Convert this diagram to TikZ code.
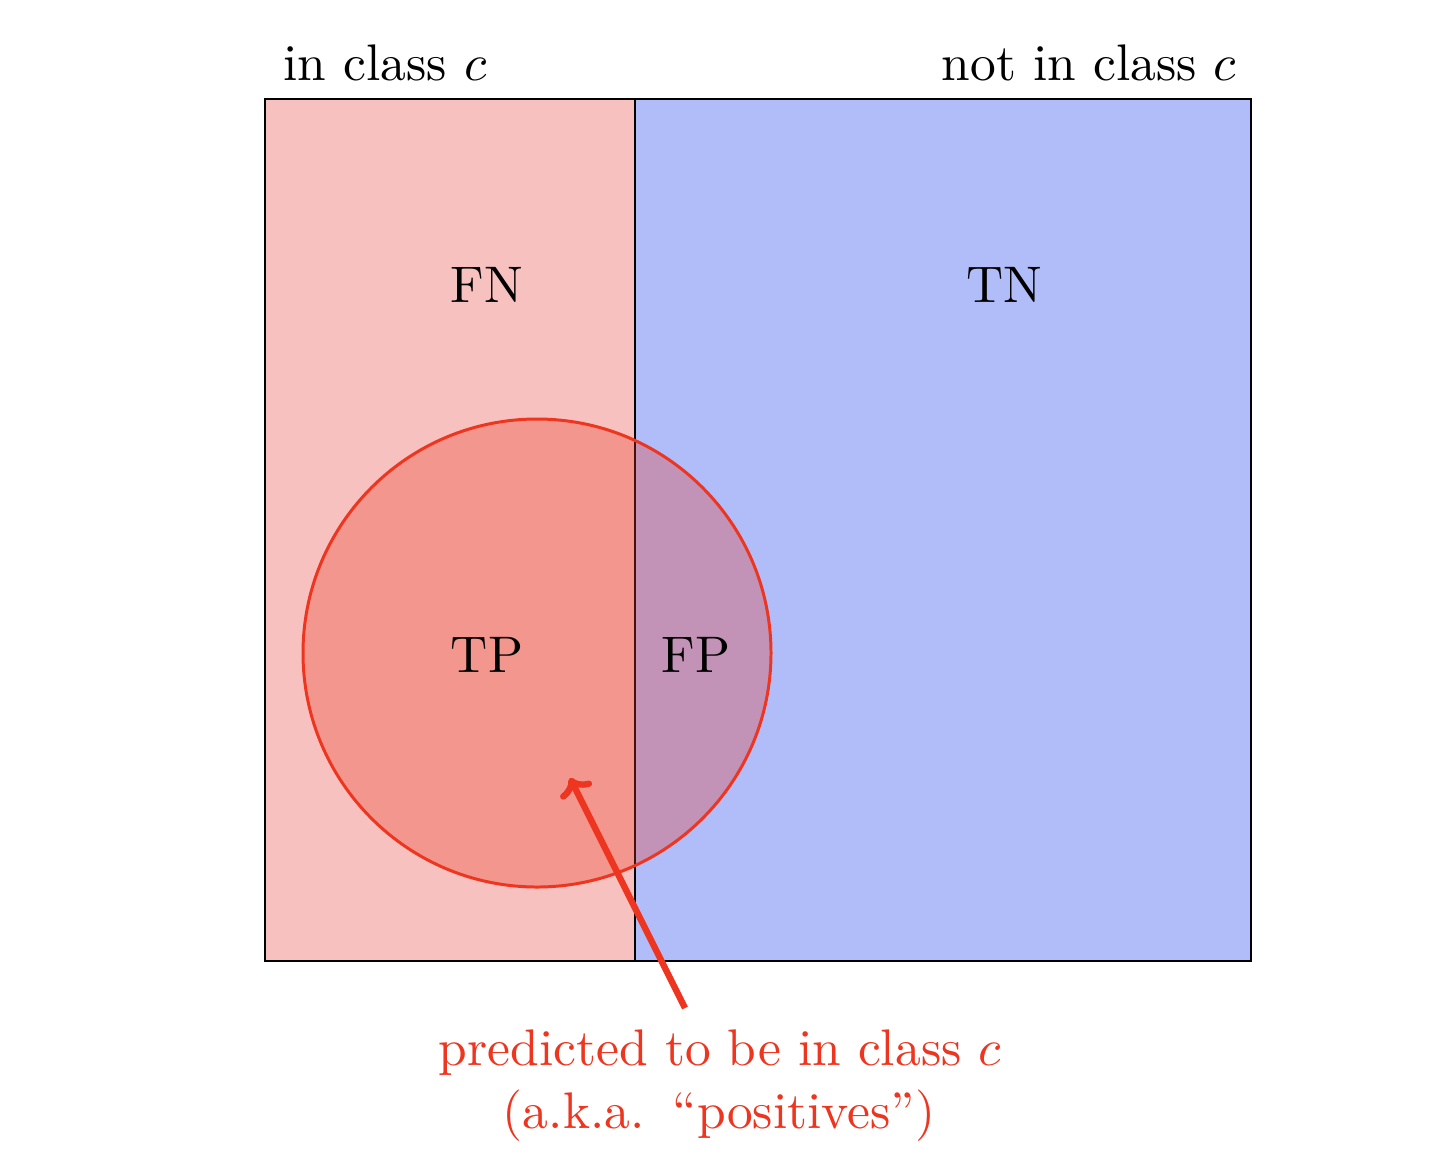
\documentclass[tikz,border=0pt]{standalone}
\usetikzlibrary{arrows.meta}
\definecolor{inred}{RGB}{247,193,191}
\definecolor{outblue}{RGB}{177,189,249}
\definecolor{predred}{RGB}{237,53,31}
\begin{document}
\begin{tikzpicture}[x=0.02cm,y=-0.02cm,
  lab/.style={anchor=base,inner sep=0pt,font=\fontsize{10}{12}\selectfont,scale=2.93,transform shape},
  region/.style={draw=black,line width=0.85pt}]
\path[use as bounding box] (0,0) rectangle (1452,1160);
\fill[inred] (265,99) rectangle (635,961);
\fill[outblue] (635,99) rectangle (1251,961);
\draw[region] (265,99) rectangle (1251,961);
\draw[region] (635,99) -- (635,961);
\node[circle,minimum size=468*0.02cm,inner sep=0pt,draw=predred,line width=1.7pt,fill=predred,fill opacity=0.3] (pred) at (537,653) {};
\node[lab] (incls) at (385,80) {in class $c$};
\node[lab] (notincls) at (1089,80) {not in class $c$};
\node[lab] (fn) at (487,302) {FN};
\node[lab] (tn) at (1004,302) {TN};
\node[lab] (tp) at (487,672) {TP};
\node[lab] (fp) at (696,672) {FP};
\node[lab,text=predred] (predlab1) at (720,1065) {predicted to be in class $c$};
\node[lab,text=predred] (predlab2) at (719,1128) {(a.k.a.\hspace{5.5pt}``positives'')};
\coordinate (arrstart) at (685,1008);
\coordinate (arrend) at (570,778);
\draw[predred,line width=3.6pt,->] (arrstart) -- (arrend);
\end{tikzpicture}
\end{document}
